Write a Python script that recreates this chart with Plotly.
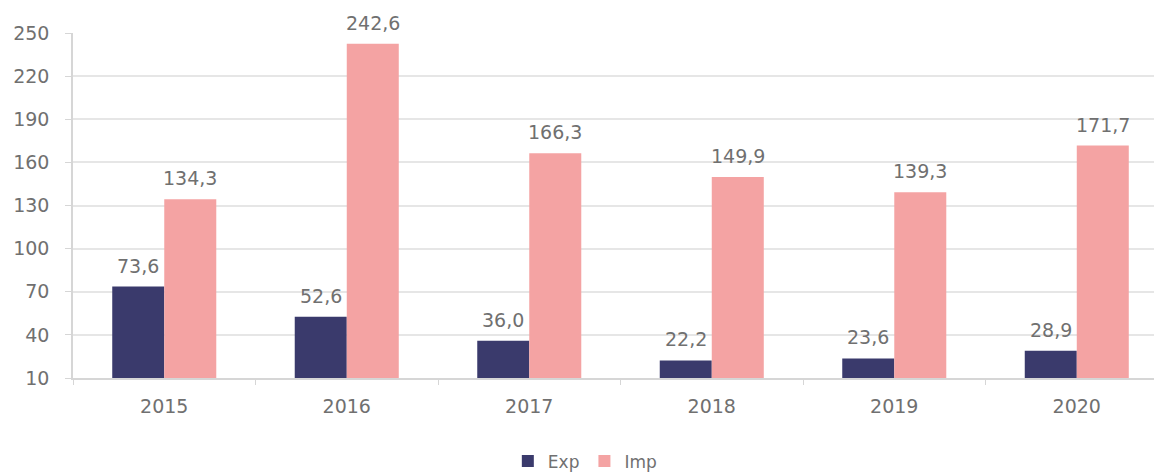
import plotly.graph_objects as go

years = ["2015", "2016", "2017", "2018", "2019", "2020"]
exp_vals = [73.6, 52.6, 36.0, 22.2, 23.6, 28.9]
imp_vals = [134.3, 242.6, 166.3, 149.9, 139.3, 171.7]
y_ticks = [10, 40, 70, 100, 130, 160, 190, 220, 250]

def fmt(v):
    return f"{v:.1f}".replace(".", ",")

font_family = "'DejaVu Sans', sans-serif"
text_color = "#707070"
W, H = 1154, 464
ML, MR, MT, MB = 65, 0, 25, 94
XRANGE = [-0.5, 5.467]
BARGAP = 0.43

fig = go.Figure()
fig.add_trace(go.Bar(name="Exp", x=years, y=exp_vals,
                     marker=dict(color="#3a3a6c", line=dict(width=0))))
fig.add_trace(go.Bar(name="Imp", x=years, y=imp_vals,
                     marker=dict(color="#f4a3a3", line=dict(width=0))))

# value labels placed above bars, shifted to each bar of the group
px_per_cat = (W - ML - MR) / (XRANGE[1] - XRANGE[0])
half = px_per_cat * (1 - BARGAP) / 4
for vals, sh in ((exp_vals, -half), (imp_vals, half)):
    for i, v in enumerate(vals):
        fig.add_annotation(x=i, y=v, text=fmt(v), showarrow=False,
                           xref="x", yref="y", yanchor="bottom",
                           xshift=sh, yshift=8,
                           font=dict(family=font_family, size=19, color=text_color))

fig.update_layout(
    width=W, height=H,
    margin=dict(l=ML, r=MR, t=MT, b=MB, autoexpand=False),
    paper_bgcolor="white", plot_bgcolor="white",
    barmode="group", bargap=BARGAP, bargroupgap=0.0,
    font=dict(family=font_family, color=text_color, size=19),
    showlegend=True,
    legend=dict(orientation="h", x=0.47, xanchor="center", y=-0.19, yanchor="top",
                font=dict(size=17, color=text_color), itemwidth=30, traceorder="normal"),
)
fig.update_xaxes(
    type="category", range=XRANGE, automargin=False,
    showline=True, linecolor="#d6d6d6", linewidth=1.5,
    ticks="outside", tickson="boundaries", ticklen=5, tickcolor="#d6d6d6",
    ticklabelstandoff=10,
    showgrid=False, tickfont=dict(size=19, color=text_color),
)
fig.update_yaxes(
    range=[10, 250], tickvals=y_ticks, ticktext=[str(t) for t in y_ticks],
    automargin=False,
    showgrid=True, gridcolor="#e6e6e6", gridwidth=1.5,
    showline=True, linecolor="#d6d6d6", linewidth=1.5,
    ticks="outside", ticklen=6, tickcolor="#d6d6d6",
    ticklabelstandoff=12,
    zeroline=False, tickfont=dict(size=19, color=text_color),
)

fig.write_html("out.html")
